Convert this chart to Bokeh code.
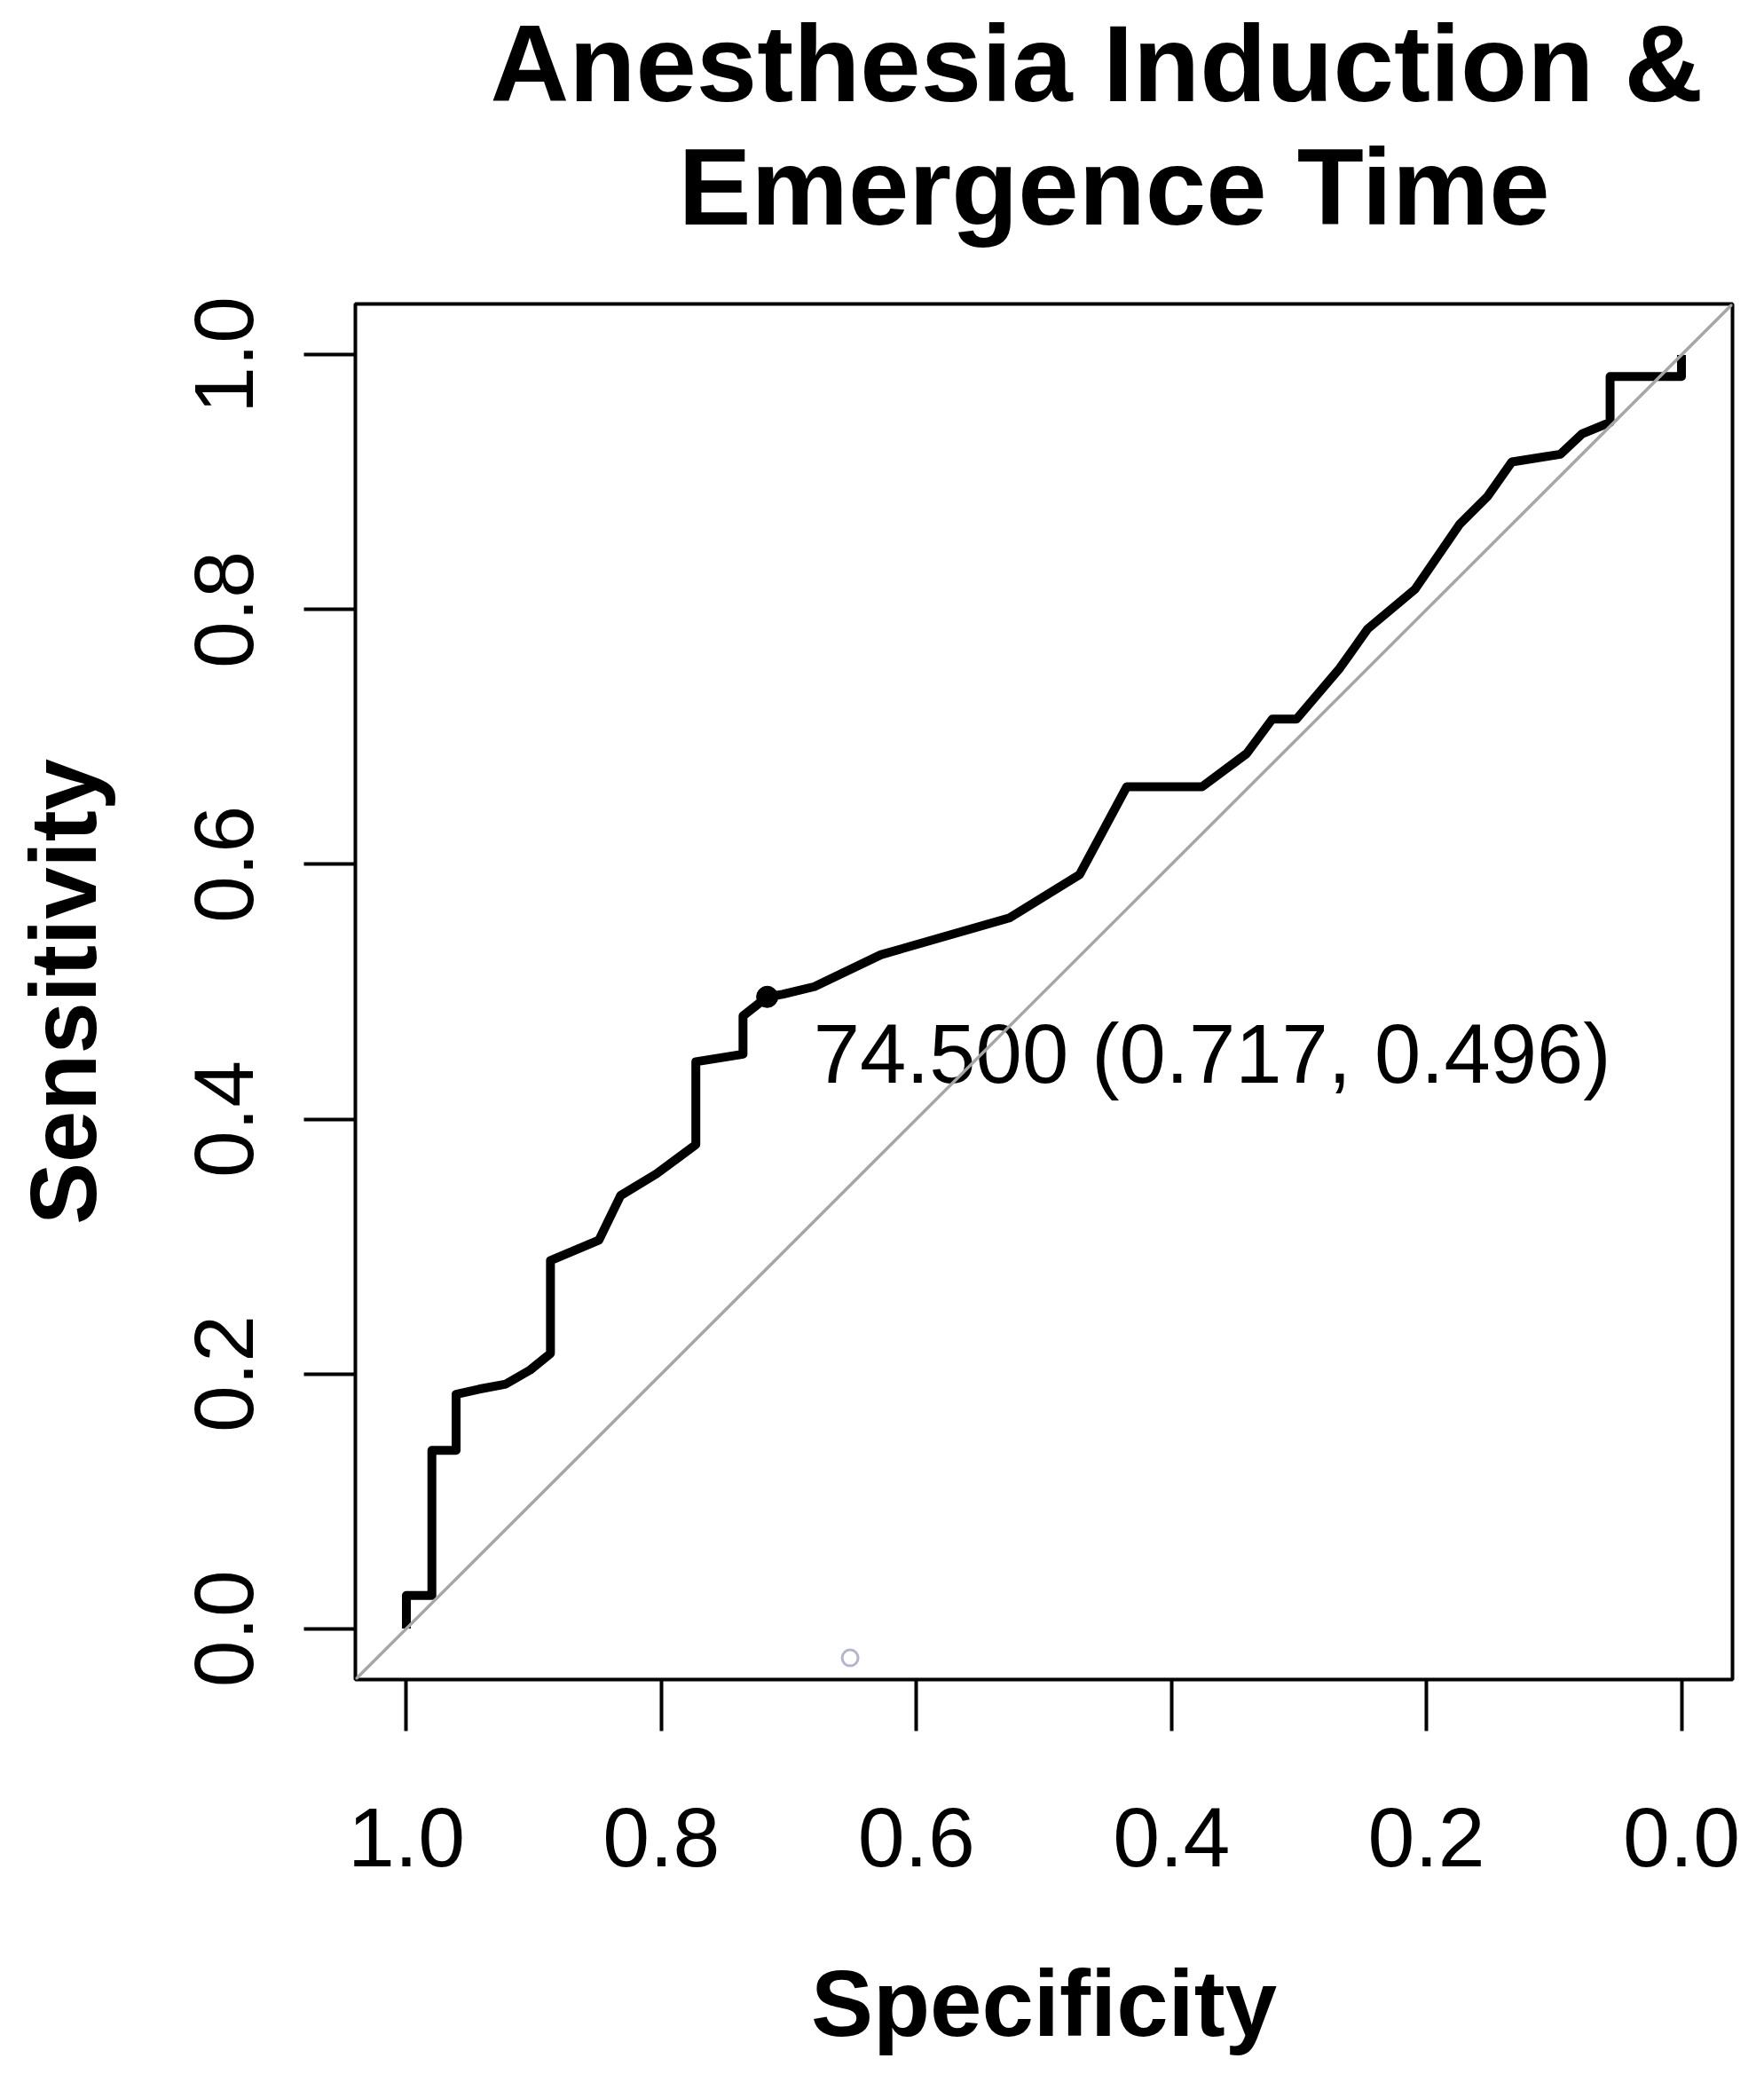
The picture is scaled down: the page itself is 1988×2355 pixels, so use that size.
import math
from bokeh.plotting import figure
from bokeh.models import Range1d, FixedTicker, Slope, Title
from bokeh.core.properties import value
from bokeh.embed import file_html
from bokeh.resources import INLINE

# ROC curve (specificity on reversed x axis, sensitivity on y)
specificity = [1.0, 1.0, 0.980, 0.980, 0.961, 0.961, 0.943, 0.922, 0.903, 0.887,
               0.887, 0.849, 0.832, 0.804, 0.773, 0.773, 0.736, 0.736, 0.717, 0.705,
               0.680, 0.628, 0.527, 0.472, 0.435, 0.376, 0.341, 0.321, 0.302, 0.268,
               0.246, 0.209, 0.174, 0.152, 0.133, 0.095, 0.078, 0.056, 0.056, 0.0, 0.0]
sensitivity = [0.0, 0.026, 0.026, 0.140, 0.140, 0.184, 0.188, 0.192, 0.203, 0.216,
               0.289, 0.305, 0.340, 0.357, 0.380, 0.445, 0.451, 0.481, 0.496, 0.498,
               0.504, 0.529, 0.558, 0.592, 0.661, 0.661, 0.687, 0.714, 0.714, 0.754,
               0.785, 0.816, 0.867, 0.889, 0.916, 0.922, 0.938, 0.947, 0.983, 0.983, 1.0]

# best threshold
thr_spec = [0.717]
thr_sens = [0.496]
thr_label = ["74.500 (0.717, 0.496)"]

# stray faint point
stray_spec = [0.652]
stray_sens = [-0.023]

tick_values = [1.0, 0.8, 0.6, 0.4, 0.2, 0.0]
tick_labels = ["1.0", "0.8", "0.6", "0.4", "0.2", "0.0"]

title_lines = ["Anesthesia Induction &", "Emergence Time"]
x_label = "Specificity"
y_label = "Sensitivity"

FONT = "Liberation Sans"

p = figure(width=1972, height=2339, output_backend="svg", toolbar_location=None,
           x_range=Range1d(1.04, -0.04), y_range=Range1d(-0.04, 1.04),
           min_border_left=400, min_border_right=20, min_border_top=340,
           min_border_bottom=447, title=None)
p.background_fill_color = "white"
p.border_fill_color = "white"
p.outline_line_color = "black"
p.outline_line_width = 4
p.xgrid.visible = False
p.ygrid.visible = False

for ax in (p.xaxis[0], p.yaxis[0]):
    ax.ticker = FixedTicker(ticks=tick_values)
    ax.major_label_overrides = {v: l for v, l in zip(tick_values, tick_labels)}
    ax.axis_line_color = None
    ax.major_tick_line_color = "black"
    ax.major_tick_line_width = 4
    ax.major_tick_out = 58
    ax.major_tick_in = 0
    ax.minor_tick_line_color = None
    ax.major_label_text_font = FONT
    ax.major_label_text_font_size = "95px"
    ax.major_label_text_color = "black"
    ax.axis_label_text_font = FONT
    ax.axis_label_text_font_size = "105px"
    ax.axis_label_text_font_style = "bold"
    ax.axis_label_text_color = "black"

p.xaxis.axis_label = x_label
p.yaxis.axis_label = y_label
p.yaxis.major_label_orientation = "parallel"
p.xaxis.major_label_standoff = 87
p.yaxis.major_label_standoff = 57
p.xaxis.axis_label_standoff = 93
p.yaxis.axis_label_standoff = 88
# axis bounds (axis lines are hidden) nudge the axis titles like in the original
p.xaxis.bounds = (-0.029, 1.0)
p.yaxis.bounds = (-0.062, 1.0)

# diagonal reference line
p.add_layout(Slope(gradient=-1, y_intercept=1, line_color="#A6A6A6", line_width=3.5))

# ROC curve
p.line(specificity, sensitivity, line_color="black", line_width=10, line_join="round")

# threshold point and label
p.scatter(thr_spec, thr_sens, size=24, color="black")
p.text(thr_spec, thr_sens, text=thr_label, x_offset=52, y_offset=64,
       text_font=value(FONT), text_font_size="94px", text_color="black",
       text_align="left", text_baseline="alphabetic")

# stray faint point
p.scatter(stray_spec, stray_sens, size=18, fill_color=None, line_color="#B4B4D2",
          line_width=3)

# two-line title, stacked above the frame (first added = closest to the frame)
spacer = Title(text=" ", text_font_size="10px", standoff=51, text_color="white")
t2 = Title(text=title_lines[1], align="left", offset=364, text_font=FONT,
           text_font_size="123px", text_font_style="bold", text_color="black",
           standoff=0)
t1 = Title(text=title_lines[0], align="left", offset=152, text_font=FONT,
           text_font_size="123px", text_font_style="bold", text_color="black",
           standoff=0)
p.add_layout(spacer, "above")
p.add_layout(t2, "above")
p.add_layout(t1, "above")

open("out.html", "w").write(file_html(p, INLINE))
